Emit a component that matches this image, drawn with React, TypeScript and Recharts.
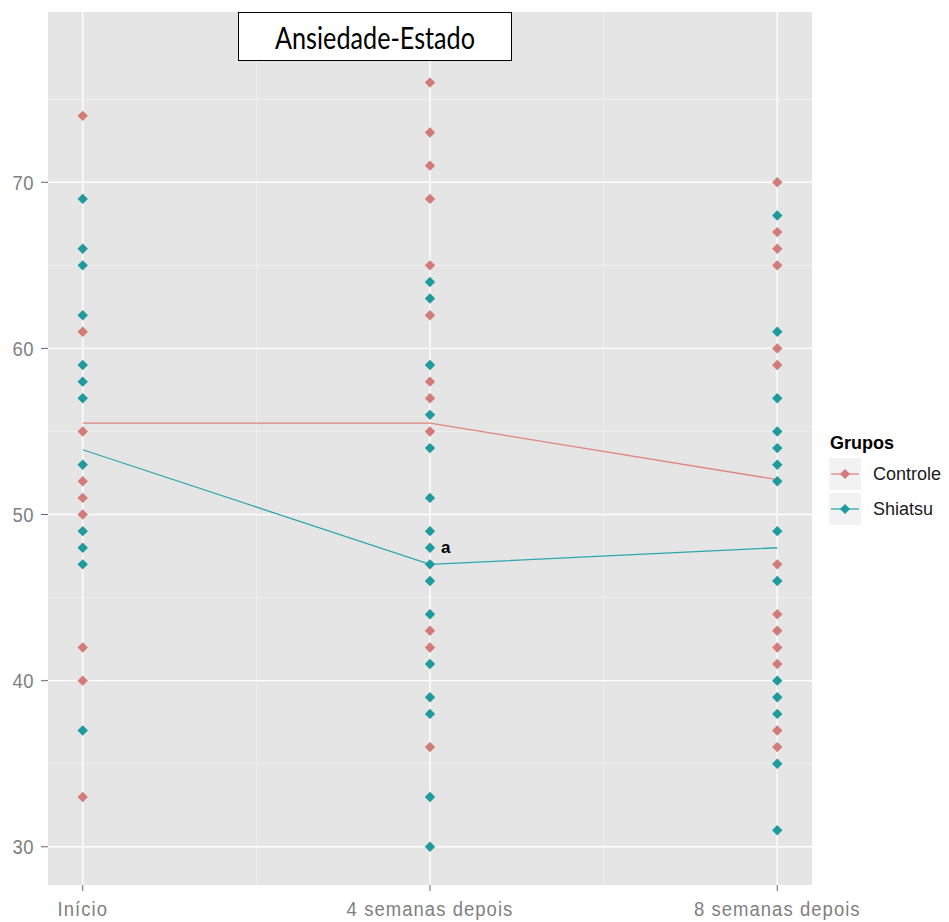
import React from 'react';
import {
  ComposedChart,
  Scatter,
  Line,
  XAxis,
  YAxis,
  CartesianGrid,
  ReferenceDot,
} from 'recharts';

// Time points (weeks) and their axis labels
const timeValues = [0, 4, 8];
const timeLabels = ['Início', '4 semanas depois', '8 semanas depois'];

// Individual scores, group "Controle"
const controleInicio = [74, 61, 55, 52, 51, 50, 42, 40, 33];
const controle4sem = [76, 73, 71, 69, 65, 62, 58, 57, 55, 43, 42, 36];
const controle8sem = [70, 67, 66, 65, 60, 59, 47, 44, 43, 42, 41, 37, 36];

// Individual scores, group "Shiatsu"
const shiatsuInicio = [69, 66, 65, 62, 59, 58, 57, 53, 49, 48, 47, 37];
const shiatsu4sem = [64, 63, 59, 56, 54, 51, 49, 48, 47, 46, 44, 41, 39, 38, 33, 30];
const shiatsu8sem = [68, 61, 57, 55, 54, 53, 52, 49, 46, 40, 39, 38, 35, 31];

// Group means per time point
const controleMedia = [55.5, 55.5, 52.1];
const shiatsuMedia = [53.9, 47.0, 48.0];

// Axis ticks and minor grid values
const yTicks = [30, 40, 50, 60, 70];
const yMinor = [35, 45, 55, 65, 75];
const xMinor = [2, 6];

// Significance mark
const marca = { x: 4, y: 48, texto: 'a' };

const CONTROLE_PONTO = '#d27c79';
const CONTROLE_LINHA = '#e0857f';
const SHIATSU_PONTO = '#1f9b9e';
const SHIATSU_LINHA = '#2ea6ad';

const toPoints = (t: number, vals: number[]) => vals.map((v) => ({ x: t, y: v }));

const controlePontos = [
  ...toPoints(timeValues[0], controleInicio),
  ...toPoints(timeValues[1], controle4sem),
  ...toPoints(timeValues[2], controle8sem),
];
const shiatsuPontos = [
  ...toPoints(timeValues[0], shiatsuInicio),
  ...toPoints(timeValues[1], shiatsu4sem),
  ...toPoints(timeValues[2], shiatsu8sem),
];
const controleLinha = timeValues.map((t, i) => ({ x: t, y: controleMedia[i] }));
const shiatsuLinha = timeValues.map((t, i) => ({ x: t, y: shiatsuMedia[i] }));

const FONT = '"Liberation Sans", Arial, sans-serif';

const diamond = (color: string) => (props: any) => {
  const { cx, cy } = props;
  if (cx == null || cy == null) return <g />;
  const h = 5.2;
  return (
    <polygon
      points={`${cx},${cy - h} ${cx + h},${cy} ${cx},${cy + h} ${cx - h},${cy}`}
      fill={color}
    />
  );
};

// Tick labels use a slightly condensed sans
const XTick = (props: any) => {
  const { x, y, payload } = props;
  const idx = timeValues.indexOf(payload.value);
  return (
    <g transform={`translate(${x},${y + 23}) scale(0.88,1)`}>
      <text
        x={0}
        y={0}
        textAnchor="middle"
        fill="#7f7f7f"
        fontSize={21}
        letterSpacing={1.2}
        fontFamily={FONT}
      >
        {idx >= 0 ? timeLabels[idx] : ''}
      </text>
    </g>
  );
};

const YTick = (props: any) => {
  const { x, y, payload } = props;
  return (
    <g transform={`translate(${x},${y + 7.5}) scale(0.88,1)`}>
      <text
        x={0}
        y={0}
        textAnchor="end"
        fill="#7f7f7f"
        fontSize={21}
        letterSpacing={0.6}
        fontFamily={FONT}
      >
        {payload.value}
      </text>
    </g>
  );
};

const LegendKey = ({ color, line }: { color: string; line: string }) => (
  <svg width={34} height={34} style={{ display: 'block' }}>
    <rect x={0.5} y={0.5} width={33} height={33} fill="#f2f2f2" stroke="#ffffff" />
    <line x1={3} y1={17} x2={31} y2={17} stroke={line} strokeWidth={1.3} />
    <polygon points="17,12 22,17 17,22 12,17" fill={color} />
  </svg>
);

export default function App() {
  return (
    <div
      style={{
        position: 'absolute',
        left: 0,
        top: 0,
        width: 949,
        height: 922,
        background: '#ffffff',
      }}
    >
      <ComposedChart
        width={949}
        height={922}
        margin={{ top: 12, right: 137, bottom: 0, left: 0 }}
      >
        <CartesianGrid
          fill="#e5e5e5"
          fillOpacity={1}
          stroke="#f3f3f3"
          strokeWidth={0.7}
          horizontalValues={yMinor}
          verticalValues={xMinor}
        />
        <CartesianGrid
          stroke="#ffffff"
          strokeWidth={1.4}
          horizontalValues={yTicks}
          verticalValues={timeValues}
        />
        <XAxis
          type="number"
          dataKey="x"
          domain={[-0.4, 8.4]}
          ticks={timeValues}
          allowDataOverflow
          height={37}
          axisLine={false}
          tickLine={{ stroke: '#666666' }}
          tickSize={6}
          tickMargin={2}
          tick={<XTick />}
          interval={0}
        />
        <YAxis
          type="number"
          dataKey="y"
          domain={[27.7, 80.25]}
          ticks={yTicks}
          allowDataOverflow
          width={48}
          axisLine={false}
          tickLine={{ stroke: '#666666' }}
          tickSize={7}
          tickMargin={7}
          tick={<YTick />}
          interval={0}
        />
        <Scatter
          name="Controle"
          data={controlePontos}
          shape={diamond(CONTROLE_PONTO)}
          isAnimationActive={false}
        />
        <Scatter
          name="Shiatsu"
          data={shiatsuPontos}
          shape={diamond(SHIATSU_PONTO)}
          isAnimationActive={false}
        />
        <Line
          data={controleLinha}
          dataKey="y"
          type="linear"
          stroke={CONTROLE_LINHA}
          strokeWidth={1.3}
          dot={false}
          activeDot={false}
          isAnimationActive={false}
        />
        <Line
          data={shiatsuLinha}
          dataKey="y"
          type="linear"
          stroke={SHIATSU_LINHA}
          strokeWidth={1.3}
          dot={false}
          activeDot={false}
          isAnimationActive={false}
        />
        <ReferenceDot
          x={marca.x}
          y={marca.y}
          r={0}
          shape={(p: any) => (
            <text
              x={p.cx + 11}
              y={p.cy + 5}
              fontSize={17}
              fontWeight="bold"
              fill="#000000"
              fontFamily={FONT}
            >
              {marca.texto}
            </text>
          )}
        />
      </ComposedChart>

      {/* Title box */}
      <div
        style={{
          position: 'absolute',
          left: 238,
          top: 12,
          width: 274,
          height: 49,
          boxSizing: 'border-box',
          border: '1.5px solid #000000',
          background: '#ffffff',
          display: 'flex',
          alignItems: 'center',
          justifyContent: 'center',
          fontFamily: 'Lato, "Open Sans", sans-serif',
          fontSize: 30,
          color: '#000000',
        }}
      >
        <span style={{ display: 'inline-block', transform: 'scaleX(0.84)', whiteSpace: 'nowrap' }}>
          Ansiedade-Estado
        </span>
      </div>

      {/* Legend */}
      <div
        style={{
          position: 'absolute',
          left: 830,
          top: 433,
          fontFamily: FONT,
          fontWeight: 'bold',
          fontSize: 18,
          color: '#000000',
        }}
      >
        Grupos
      </div>
      {[
        { label: 'Controle', color: CONTROLE_PONTO, line: CONTROLE_LINHA, top: 457 },
        { label: 'Shiatsu', color: SHIATSU_PONTO, line: SHIATSU_LINHA, top: 492 },
      ].map((item) => (
        <div
          key={item.label}
          style={{
            position: 'absolute',
            left: 828,
            top: item.top,
            display: 'flex',
            alignItems: 'center',
            height: 34,
          }}
        >
          <LegendKey color={item.color} line={item.line} />
          <span
            style={{
              marginLeft: 11,
              fontFamily: FONT,
              fontSize: 18,
              color: '#1a1a1a',
            }}
          >
            {item.label}
          </span>
        </div>
      ))}
    </div>
  );
}
